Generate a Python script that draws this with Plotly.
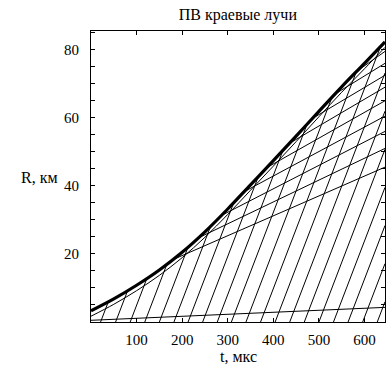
import numpy as np
import plotly.graph_objects as go

# Envelope (thick front)
env_t = [0, 50, 100, 150, 200, 250, 300, 350, 400, 450, 500, 550, 600, 645]
env_r = [3.3, 6.8, 10.8, 15.3, 20.5, 26.5, 33.2, 40.3, 47.4, 54.6, 61.9, 69.1, 76.0, 82.3]

# Steep hatch rays: start times on the t axis (R = 0) and common speed (km/us)
ray_t0 = [-12, 21, 54, 86, 118, 150, 182, 213, 245, 277, 308, 340, 372, 404,
          436, 468, 500, 532, 564, 596, 628]
ray_speed = 0.35

# Flatter fan rays: start time on the front, R at right edge
fan_ts = [185, 240, 290, 340, 390, 440, 490, 540, 590]
fan_rend = [45.5, 51, 56, 60.5, 65, 69, 72.5, 76, 79.5]

# Near-horizontal bottom ray
low_t = [0, 645]
low_r = [0.5, 4.3]

T_MAX = 645
R_MAX = 85.5

tt = np.linspace(0, T_MAX, 2000)
ee = np.interp(tt, env_t, env_r)

hx, hy = [], []
for t0 in ray_t0:
    line = ray_speed * (tt - t0)
    mask = (line >= ee) & (tt > t0)
    if mask.any():
        t_end = tt[np.argmax(mask)]
    else:
        t_end = T_MAX
    t_start = max(t0, 0)
    hx += [t_start, t_end, None]
    hy += [ray_speed * (t_start - t0), ray_speed * (t_end - t0), None]

fx, fy = [], []
for ts, re in zip(fan_ts, fan_rend):
    fx += [ts, T_MAX, None]
    fy += [float(np.interp(ts, env_t, env_r)) - 0.3, re, None]

inner_r = [r - 1.6 for r in env_r]

fig = go.Figure()
fig.add_trace(go.Scatter(x=hx, y=hy, mode="lines", line=dict(color="black", width=1), hoverinfo="skip"))
fig.add_trace(go.Scatter(x=fx, y=fy, mode="lines", line=dict(color="black", width=1), hoverinfo="skip"))
fig.add_trace(go.Scatter(x=low_t, y=low_r, mode="lines", line=dict(color="black", width=1), hoverinfo="skip"))
fig.add_trace(go.Scatter(x=env_t, y=inner_r, mode="lines", line=dict(color="black", width=1, shape="spline"), hoverinfo="skip"))
fig.add_trace(go.Scatter(x=env_t, y=env_r, mode="lines", line=dict(color="black", width=3.2, shape="spline"), hoverinfo="skip"))

SERIF = "Liberation Serif"
font = dict(family=SERIF, size=15, color="black")

fig.update_layout(
    width=388, height=369,
    margin=dict(l=91, r=3, t=31, b=47),
    paper_bgcolor="white", plot_bgcolor="white",
    showlegend=False,
    font=font,
    title=dict(text="ПВ краевые лучи", x=0.613, xanchor="center", y=0.96, yanchor="middle",
               font=dict(family=SERIF, size=16, color="black")),
)
fig.update_xaxes(
    range=[0, T_MAX], tickvals=[100, 200, 300, 400, 500, 600],
    tickfont=dict(family=SERIF, size=15, color="black"),
    showline=True, linecolor="black", linewidth=1, mirror="ticks",
    ticks="inside", ticklen=4, tickcolor="black",
    showgrid=False, zeroline=False, ticklabelstandoff=4,
)
fig.update_yaxes(
    range=[0, R_MAX], tickvals=[20, 40, 60, 80],
    tickfont=dict(family=SERIF, size=15, color="black"),
    showline=True, linecolor="black", linewidth=1, mirror="ticks",
    ticks="inside", ticklen=4, tickcolor="black",
    minor=dict(dtick=5, tick0=0, ticks="inside", ticklen=4, tickcolor="black"),
    showgrid=False, zeroline=False, ticklabelstandoff=8,
)
fig.add_annotation(text="R, км", xref="paper", yref="paper", x=-0.105, y=0.495,
                   xanchor="right", yanchor="middle", showarrow=False,
                   font=dict(family=SERIF, size=16, color="black"))
fig.add_annotation(text="t, мкс", xref="paper", yref="paper", x=0.5, y=-0.117,
                   xanchor="center", yanchor="middle", showarrow=False,
                   font=dict(family=SERIF, size=16, color="black"))

fig.write_html("out.html")
